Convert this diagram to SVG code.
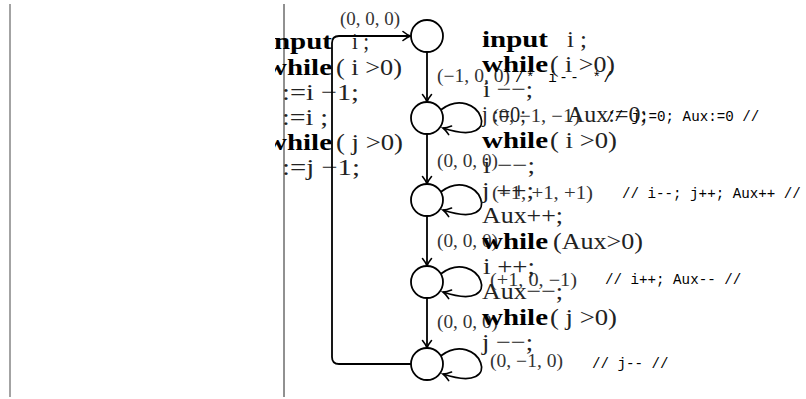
<svg xmlns="http://www.w3.org/2000/svg" width="806" height="399" viewBox="0 0 806 399">
<style>
.b{font-family:"Liberation Serif","DejaVu Serif",serif;font-weight:bold;font-size:24px;fill:#000}
.r{font-family:"Liberation Serif","DejaVu Serif",serif;font-size:24px;fill:#222}
.l{font-family:"Liberation Serif","DejaVu Serif",serif;font-size:18px;fill:#333}
.m{font-family:"Liberation Mono","DejaVu Sans Mono",monospace;font-size:14.2px;fill:#000}
.node{fill:#fff;stroke:#000;stroke-width:1.8}
.edge{fill:none;stroke:#000;stroke-width:1.8;marker-end:url(#arr)}
.rule{stroke-width:1.2}
</style>
<defs>
<marker id="arr" markerUnits="userSpaceOnUse" markerWidth="12" markerHeight="12" viewBox="-9 -6 11 12" refX="0" refY="0" orient="auto">
<path d="M-7.5,-4.5 C-4.5,-2 -1.5,-0.5 0,0 C-1.5,0.5 -4.5,2 -7.5,4.5" fill="none" stroke="#000" stroke-width="1.6" stroke-linecap="round"/>
</marker>
<clipPath id="clipL"><rect x="275" y="0" width="140" height="399"/></clipPath>
</defs>
<rect width="806" height="399" fill="#fff"/>
<g id="rules">
<line x1="10" y1="4" x2="10" y2="397" stroke="#666" class="rule"/>
<line x1="284" y1="4" x2="284" y2="397" stroke="#222" stroke-width="1"/>
</g>
<g id="code-left" clip-path="url(#clipL)">
<text class="b" x="274" y="49" textLength="58" lengthAdjust="spacingAndGlyphs">nput</text>
<text class="r" x="352" y="49" textLength="17" lengthAdjust="spacingAndGlyphs">i ;</text>
<text class="b" x="266" y="75" textLength="66" lengthAdjust="spacingAndGlyphs">while</text>
<text class="r" x="336" y="75" textLength="66" lengthAdjust="spacingAndGlyphs">( i &gt;0)</text>
<text class="r" x="282" y="100" textLength="77" lengthAdjust="spacingAndGlyphs">:=i −1;</text>
<text class="r" x="282" y="125" textLength="46" lengthAdjust="spacingAndGlyphs">:=i ;</text>
<text class="b" x="266" y="150" textLength="66" lengthAdjust="spacingAndGlyphs">while</text>
<text class="r" x="336" y="150" textLength="67" lengthAdjust="spacingAndGlyphs">( j &gt;0)</text>
<text class="r" x="282" y="175" textLength="78" lengthAdjust="spacingAndGlyphs">:=j −1;</text>
</g>
<g id="connectors">
<path class="edge" d="M427,52 L427,102"/>
<path class="edge" d="M427,134 L427,184"/>
<path class="edge" d="M427,216 L427,266"/>
<path class="edge" d="M427,298 L427,348"/>
<path class="edge" d="M411,364 L339,364 Q332,364 332,357 L332,43 Q332,36 339,36 L410.5,36"/>
<path class="edge" d="M441,109.7 C478,82 509,150 443,128"/>
<path class="edge" d="M441,191.7 C478,164 509,232 443,210"/>
<path class="edge" d="M441,273.7 C478,246 509,314 443,292"/>
<path class="edge" d="M441,355.7 C478,328 509,396 443,374"/>
</g>
<g id="n1"><circle class="node" cx="427" cy="36" r="16"/></g>
<g id="n2"><circle class="node" cx="427" cy="118" r="16"/></g>
<g id="n3"><circle class="node" cx="427" cy="200" r="16"/></g>
<g id="n4"><circle class="node" cx="427" cy="282" r="16"/></g>
<g id="n5"><circle class="node" cx="427" cy="364" r="16"/></g>
<g id="edge-labels">
<text class="l" x="340" y="25" textLength="60" lengthAdjust="spacingAndGlyphs">(0, 0, 0)</text>
<text class="l" x="437" y="82" textLength="73" lengthAdjust="spacingAndGlyphs">(−1, 0, 0)</text>
<text class="l" x="492" y="122" textLength="88" lengthAdjust="spacingAndGlyphs">(0, −1, −1)</text>
<text class="l" x="437" y="167" textLength="61" lengthAdjust="spacingAndGlyphs">(0, 0, 0)</text>
<text class="l" x="492" y="199" textLength="101" lengthAdjust="spacingAndGlyphs">(−1, +1, +1)</text>
<text class="l" x="437" y="247" textLength="61" lengthAdjust="spacingAndGlyphs">(0, 0, 0)</text>
<text class="l" x="490" y="286" textLength="87" lengthAdjust="spacingAndGlyphs">(+1, 0, −1)</text>
<text class="l" x="437" y="328" textLength="61" lengthAdjust="spacingAndGlyphs">(0, 0, 0)</text>
<text class="l" x="490" y="367" textLength="73" lengthAdjust="spacingAndGlyphs">(0, −1, 0)</text>
</g>
<g id="code-right">
<text class="b" x="482" y="47" textLength="66" lengthAdjust="spacingAndGlyphs">input</text>
<text class="r" x="567" y="47" textLength="20" lengthAdjust="spacingAndGlyphs">i ;</text>
<text class="b" x="482" y="72" textLength="66" lengthAdjust="spacingAndGlyphs">while</text>
<text class="r" x="550" y="72" textLength="65" lengthAdjust="spacingAndGlyphs">( i &gt;0)</text>
<text class="r" x="483" y="97" textLength="50" lengthAdjust="spacingAndGlyphs">i −−;</text>
<text class="r" x="482" y="122" textLength="44" lengthAdjust="spacingAndGlyphs">j :=0;</text>
<text class="r" x="567" y="122" textLength="80" lengthAdjust="spacingAndGlyphs">Aux:=0;</text>
<text class="b" x="482" y="148" textLength="66" lengthAdjust="spacingAndGlyphs">while</text>
<text class="r" x="550" y="148" textLength="67" lengthAdjust="spacingAndGlyphs">( i &gt;0)</text>
<text class="r" x="483" y="173" textLength="52" lengthAdjust="spacingAndGlyphs">i −−;</text>
<text class="r" x="482" y="198" textLength="52" lengthAdjust="spacingAndGlyphs">j ++;</text>
<text class="r" x="482" y="223" textLength="81" lengthAdjust="spacingAndGlyphs">Aux++;</text>
<text class="b" x="482" y="249" textLength="66" lengthAdjust="spacingAndGlyphs">while</text>
<text class="r" x="553" y="249" textLength="90" lengthAdjust="spacingAndGlyphs">(Aux&gt;0)</text>
<text class="r" x="483" y="274" textLength="52" lengthAdjust="spacingAndGlyphs">i ++;</text>
<text class="r" x="482" y="299" textLength="81" lengthAdjust="spacingAndGlyphs">Aux−−;</text>
<text class="b" x="482" y="325" textLength="66" lengthAdjust="spacingAndGlyphs">while</text>
<text class="r" x="550" y="325" textLength="67" lengthAdjust="spacingAndGlyphs">( j &gt;0)</text>
<text class="r" x="482" y="350" textLength="51" lengthAdjust="spacingAndGlyphs">j −−;</text>
</g>
<g id="comments">
<text class="m" x="515" y="82" textLength="97" lengthAdjust="spacing">/* i-- */</text>
<text class="m" x="606" y="121">// j:=0; Aux:=0 //</text>
<text class="m" x="622" y="198">// i--; j++; Aux++ //</text>
<text class="m" x="605" y="284">// i++; Aux-- //</text>
<text class="m" x="592" y="368">// j-- //</text>
</g>
</svg>
